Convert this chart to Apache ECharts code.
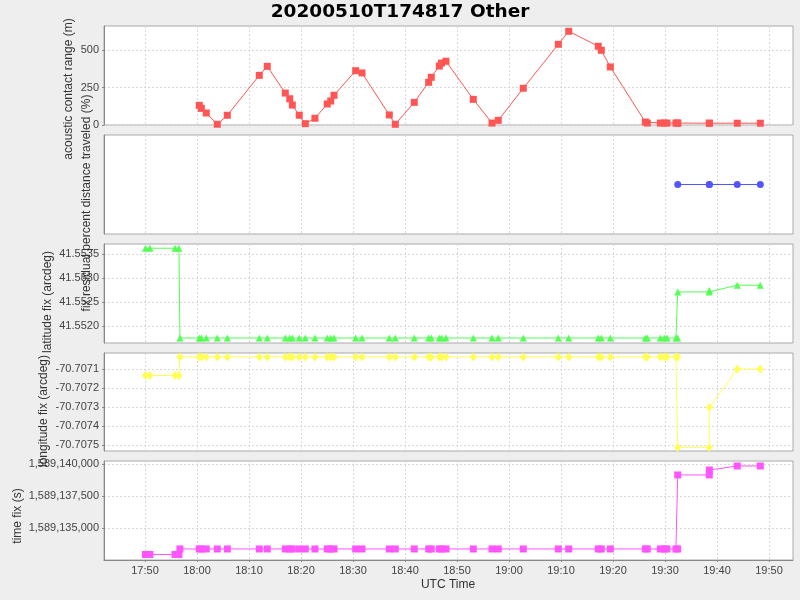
<!DOCTYPE html>
<html><head><meta charset="utf-8">
<script src="https://cdn.jsdelivr.net/npm/echarts@6/dist/echarts.min.js"></script>
<style>html,body{margin:0;padding:0;background:#eeeeee;} #c{width:800px;height:600px;}</style>
</head><body><div id="c"></div>
<script>
const titleText = '20200510T174817 Other';
const xAxisTitle = 'UTC Time';
const panelTitles = ['acoustic contact range (m)', 'fix residual percent distance traveled (%)', 'latitude fix (arcdeg)', 'longitude fix (arcdeg)', 'time fix (s)'];

const times = ['17:50:05','17:50:57','17:55:46','17:56:32','17:56:43',
 '18:00:26','18:00:50','18:01:47','18:03:54','18:05:50','18:11:59','18:13:31','18:16:59','18:17:50','18:18:20',
 '18:19:40','18:20:50','18:22:41','18:25:03','18:25:43','18:26:21','18:30:31','18:31:44','18:36:59','18:38:08',
 '18:41:47','18:44:33','18:45:03','18:46:36','18:47:01','18:47:53','18:53:08','18:56:44','18:57:56','19:02:45',
 '19:09:29','19:11:29','19:17:10','19:17:45','19:19:29','19:26:13','19:26:36','19:29:06','19:29:52','19:30:23',
 '19:32:06','19:32:26','19:32:27','19:38:31','19:38:32','19:43:54','19:48:20'];

const contactRange = [null,null,null,null,null,
 131,111,80,5,65,331,391,213,175,133,
 65,9,45,140,160,198,362,347,67,5,
 151,285,318,393,413,425,171,13,31,245,
 538,625,525,498,387,20,13,13,13,13,
 13,13,12,12,12,12,12];

const percentTraveled = [null,null,null,null,null,
 null,null,null,null,null,null,null,null,null,null,
 null,null,null,null,null,null,null,null,null,null,
 null,null,null,null,null,null,null,null,null,null,
 null,null,null,null,null,null,null,null,null,null,
 null,null,100,100,100,100,100];

const latFix = [41.55362,41.55362,41.55362,41.55362,41.55175,
 41.55175,41.55175,41.55175,41.55175,41.55175,41.55175,41.55175,41.55175,41.55175,41.55175,
 41.55175,41.55175,41.55175,41.55175,41.55175,41.55175,41.55175,41.55175,41.55175,41.55175,
 41.55175,41.55175,41.55175,41.55175,41.55175,41.55175,41.55175,41.55175,41.55175,41.55175,
 41.55175,41.55175,41.55175,41.55175,41.55175,41.55175,41.55175,41.55175,41.55175,41.55175,
 41.55175,41.55175,41.55271,41.55271,41.55274,41.55285,41.55285];

const lonFix = [-70.707134,-70.707134,-70.707134,-70.707134,-70.707036,
 -70.707036,-70.707036,-70.707036,-70.707036,-70.707036,-70.707036,-70.707036,-70.707036,-70.707036,-70.707036,
 -70.707036,-70.707036,-70.707036,-70.707036,-70.707036,-70.707036,-70.707036,-70.707036,-70.707036,-70.707036,
 -70.707036,-70.707036,-70.707036,-70.707036,-70.707036,-70.707036,-70.707036,-70.707036,-70.707036,-70.707036,
 -70.707036,-70.707036,-70.707036,-70.707036,-70.707036,-70.707036,-70.707036,-70.707036,-70.707036,-70.707036,
 -70.707036,-70.707036,-70.707514,-70.707514,-70.707303,-70.7071,-70.7071];

const timeFix = [1589132897,1589132897,1589132897,1589132897,1589133330,
 1589133330,1589133330,1589133330,1589133330,1589133330,1589133330,1589133330,1589133330,1589133330,1589133330,
 1589133330,1589133330,1589133330,1589133330,1589133330,1589133330,1589133330,1589133330,1589133330,1589133330,
 1589133330,1589133330,1589133330,1589133330,1589133330,1589133330,1589133330,1589133330,1589133330,1589133330,
 1589133330,1589133330,1589133330,1589133330,1589133330,1589133330,1589133330,1589133330,1589133330,1589133330,
 1589133330,1589133330,1589139160,1589139160,1589139550,1589139866,1589139866];

const xTickLabels = ['17:50','18:00','18:10','18:20','18:30','18:40','18:50','19:00','19:10','19:20','19:30','19:40','19:50'];
const rangeTicks = [0,250,500];
const latTicks = [41.5520,41.5525,41.5530,41.5535];
const lonTicks = [-70.7075,-70.7074,-70.7073,-70.7072,-70.7071];
const timeFixTicks = [1589135000,1589137500,1589140000];

function toSec(s){const p=s.split(':').map(Number);return p[0]*3600+p[1]*60+(p[2]||0);}
function fmtHM(v){const h=Math.floor(v/3600), m=Math.round((v-h*3600)/60);return String(h).padStart(2,'0')+':'+String(m).padStart(2,'0');}
function commas(v){return Math.round(v).toString().replace(/\B(?=(\d{3})+(?!\d))/g, ',');}

const secs = times.map(toSec);
const xTickVals = xTickLabels.map(toSec);
const X_MIN = toSec('17:42:07'), X_MAX = toSec('19:54:37');

const tickFont = 'Liberation Sans';
const gridDefs = [[26,99],[135,99],[244,99],[353,98],[461,99]];
const grids = gridDefs.map(g=>({left:104, width:689, top:g[0], height:g[1], show:true, backgroundColor:'#ffffff', borderColor:'#aaaaaa', borderWidth:1}));

const splitStyle = {show:true, lineStyle:{color:'#d8d8d8', type:[2,2], width:1}};

const xAxes = gridDefs.map((g,i)=>({
  type:'value', gridIndex:i, min:X_MIN, max:X_MAX,
  axisLine:{show:i===4, lineStyle:{color:'#888888'}},
  axisTick:{show:i===4, customValues:xTickVals, length:2, lineStyle:{color:'#888888'}},
  axisLabel:{show:i===4, customValues:xTickVals, formatter:fmtHM, fontFamily:tickFont, fontSize:11, color:'#444444', margin:5},
  splitLine:splitStyle
}));

function yAx(i, min, max, ticks, fmt, showLabels){
  return {
    type:'value', gridIndex:i, min:min, max:max,
    axisLine:{show:true, lineStyle:{color:'#888888'}},
    axisTick:{show:showLabels, customValues:ticks, length:2, lineStyle:{color:'#888888'}},
    axisLabel:{show:showLabels, customValues:ticks, formatter:fmt, fontFamily:tickFont, fontSize:11, color:'#444444', margin:5},
    splitLine: showLabels ? splitStyle : {show:false}
  };
}
const yAxes = [
  yAx(0, 0, 660, rangeTicks, v=>String(v), true),
  yAx(1, 99, 101, [100], v=>String(v), false),
  yAx(2, 41.551646, 41.553708, latTicks, v=>v.toFixed(4), true),
  yAx(3, -70.707533, -70.707015, lonTicks, v=>v.toFixed(4), true),
  yAx(4, 1589132461, 1589140259, timeFixTicks, commas, true)
];

function ser(i, arr, color, symbol, size){
  return {type:'line', xAxisIndex:i, yAxisIndex:i, data:secs.map((s,k)=>[s, arr[k]]),
    symbol:symbol, symbolSize:size, showAllSymbol:true, itemStyle:{color:color}, lineStyle:{color:color, width:1}, animation:false, silent:true};
}

const titleGraphics = [
  {type:'text', x:400, y:12, style:{text:titleText, font:'bold 18.5px "DejaVu Sans"', fill:'#000', align:'center', verticalAlign:'middle'}},
  {type:'text', x:448, y:585, style:{text:xAxisTitle, font:'12px "Liberation Sans"', fill:'#333', align:'center', verticalAlign:'middle'}}
];
const labelPos = [[69,89],[87,203],[48,302],[44,411],[18,516]];
panelTitles.forEach((t,i)=>{
  titleGraphics.push({type:'text', x:labelPos[i][0], y:labelPos[i][1], rotation:Math.PI/2, z:10,
    style:{text:t, font:'12px "Liberation Sans"', fill:'#333', align:'center', verticalAlign:'middle'}});
});

const chart = echarts.init(document.getElementById('c'), null, {renderer:'canvas'});
chart.setOption({
  backgroundColor:'#eeeeee',
  animation:false,
  grid:grids, xAxis:xAxes, yAxis:yAxes,
  graphic:titleGraphics,
  series:[
    ser(0, contactRange, '#FF5555', 'rect', 7),
    ser(1, percentTraveled, '#5555FF', 'circle', 7),
    ser(2, latFix, '#55FF55', 'triangle', 7),
    ser(3, lonFix, '#FFFF55', 'diamond', [7,9]),
    ser(4, timeFix, '#FF55FF', 'rect', 7)
  ]
});
</script></body></html>
